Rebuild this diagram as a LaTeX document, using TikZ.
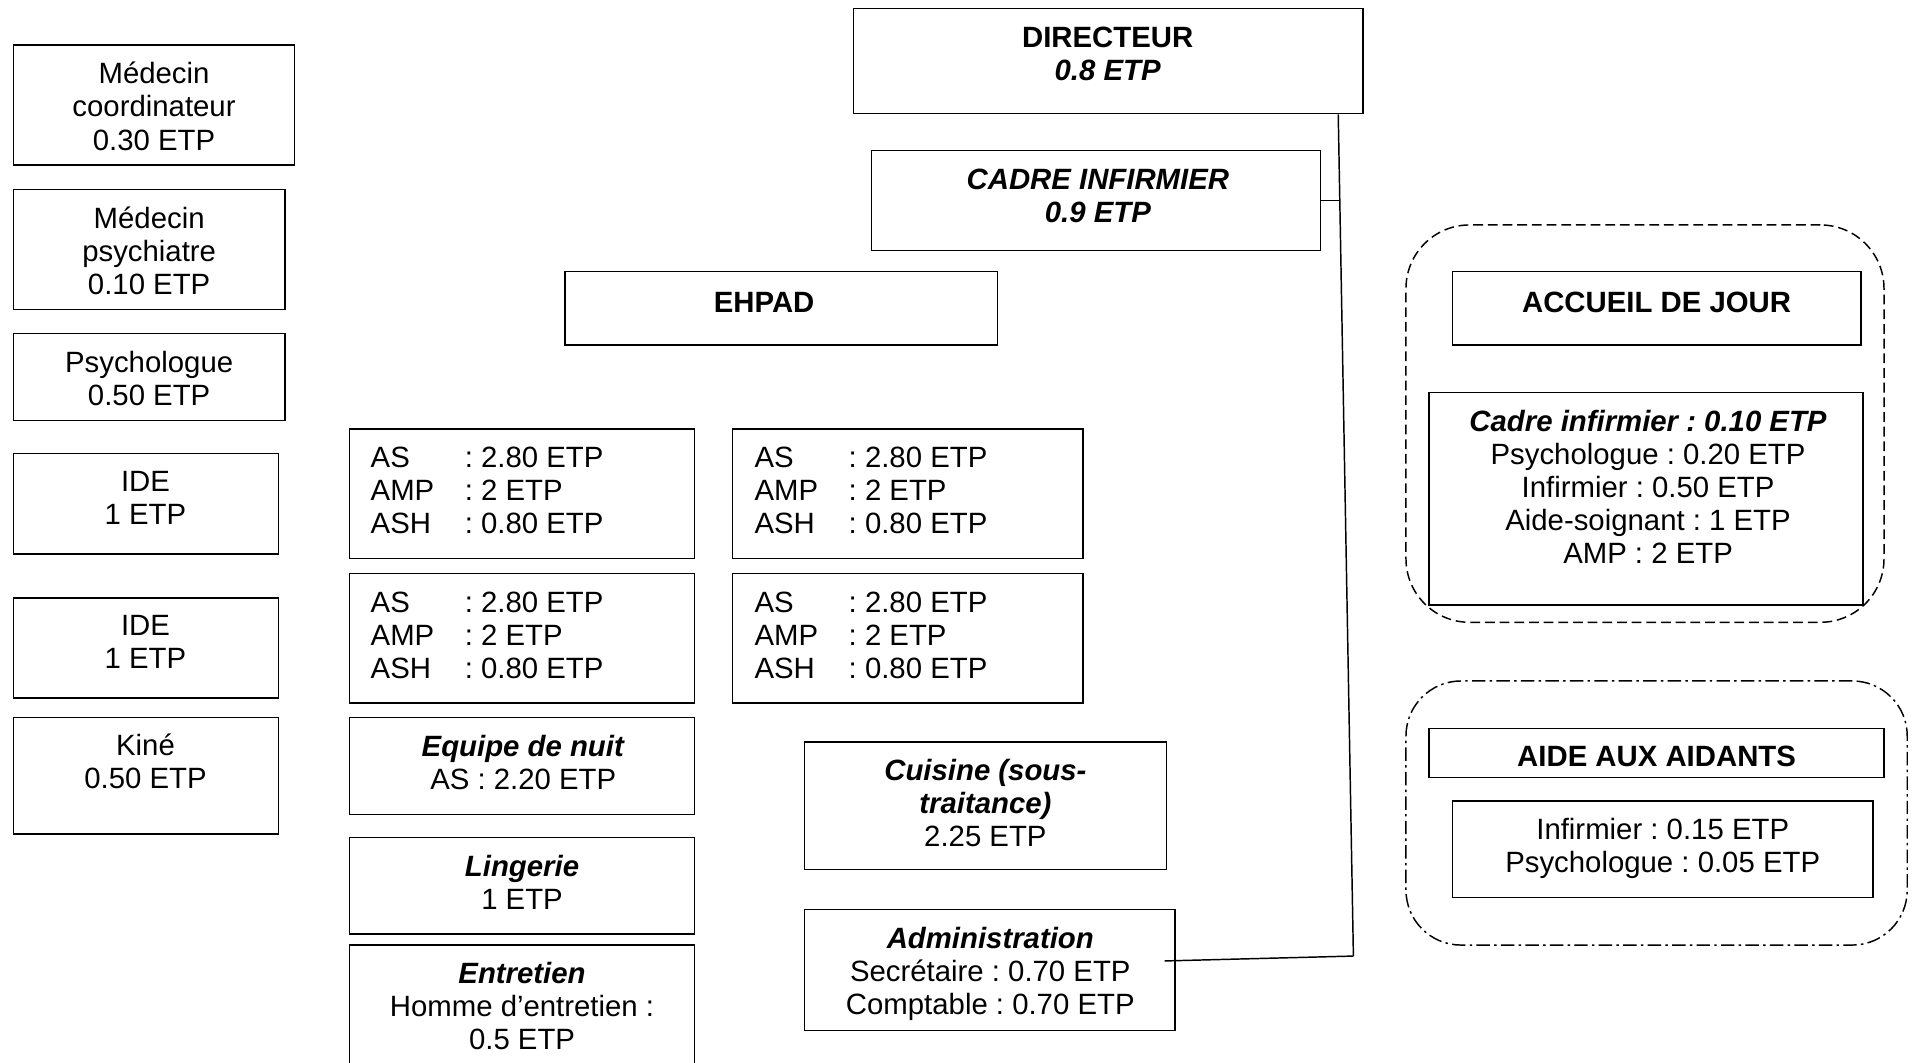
\documentclass[tikz,border=0pt]{standalone}
\usepackage{fontspec}
\setmainfont{Liberation Sans}
\usetikzlibrary{fit,calc}
\frenchspacing
\newcommand\T{\rule{0pt}{23pt}}
\newcommand\rw[2]{\makebox[77pt][l]{#1}: #2}
\newcommand\bi[1]{\textbf{\textit{#1}}}
\tikzset{
  bx/.style={draw, line width=1.2pt, inner sep=0pt, fit={#1}},
  tx/.style={anchor=north, yshift=14.5pt, inner sep=0pt, align=center, font=\fontsize{24}{27}\selectfont},
  tl/.style={anchor=north west, yshift=14.5pt, inner sep=0pt, align=left, font=\fontsize{24}{27}\selectfont},
  grpdash/.style={draw, line width=1.2pt, inner sep=0pt, rounded corners=52pt, dash pattern=on 8pt off 4pt, fit={#1}},
  grpdot/.style={draw, line width=1.2pt, inner sep=0pt, rounded corners=45pt, dash pattern=on 11pt off 3.5pt on 2pt off 3.5pt, fit={#1}},
  conn/.style={draw, line width=1.2pt}
}
\begin{document}
\begin{tikzpicture}[x=1pt,y=-1pt]
\useasboundingbox (0,0) rectangle (1568,869);

% left column
\node[bx={(11,37) (241,135)}] (mc) {};
\node[tx] (mct) at (126,60) {\T Médecin\\coordinateur\\0.30 ETP};
\node[bx={(11,155) (233,253)}] (mp) {};
\node[tx] (mpt) at (122,178) {\T Médecin\\psychiatre\\0.10 ETP};
\node[bx={(11,273) (233,344)}] (psy) {};
\node[tx] (psyt) at (122,296) {\T Psychologue\\0.50 ETP};
\node[bx={(11,371) (228,453)}] (ide1) {};
\node[tx] (ide1t) at (119,393) {\T IDE\\1 ETP};
\node[bx={(11,489) (228,571)}] (ide2) {};
\node[tx] (ide2t) at (119,511) {\T IDE\\1 ETP};
\node[bx={(11,587) (228,682)}] (kine) {};
\node[tx] (kinet) at (119,609) {\T Kiné\\0.50 ETP};

% top hierarchy
\node[bx={(698,7) (1115,93)}] (dir) {};
\node[tx] (dirt) at (906,30) {\T\textbf{DIRECTEUR}\\\bi{0.8 ETP}};
\node[bx={(713,123) (1080,205)}] (cadre) {};
\node[tx] (cadret) at (898,146) {\T\bi{CADRE INFIRMIER}\\\bi{0.9 ETP}};
\node[bx={(462,222) (816,282)}] (ehpad) {};
\node[tx] (ehpadt) at (625,247) {\T\textbf{EHPAD}};

% EHPAD teams
\node[bx={(286,351) (568,457)}] (a1) {};
\node[tl] (a1t) at (303,374) {\T\rw{AS}{2.80 ETP}\\\rw{AMP}{2 ETP}\\\rw{ASH}{0.80 ETP}};
\node[bx={(599,351) (886,457)}] (a2) {};
\node[tl] (a2t) at (617,374) {\T\rw{AS}{2.80 ETP}\\\rw{AMP}{2 ETP}\\\rw{ASH}{0.80 ETP}};
\node[bx={(286,469) (568,575)}] (b1) {};
\node[tl] (b1t) at (303,492) {\T\rw{AS}{2.80 ETP}\\\rw{AMP}{2 ETP}\\\rw{ASH}{0.80 ETP}};
\node[bx={(599,469) (886,575)}] (b2) {};
\node[tl] (b2t) at (617,492) {\T\rw{AS}{2.80 ETP}\\\rw{AMP}{2 ETP}\\\rw{ASH}{0.80 ETP}};

\node[bx={(286,587) (568,666)}] (nuit) {};
\node[tx] (nuitt) at (428,610) {\T\bi{Equipe de nuit}\\AS : 2.20 ETP};
\node[bx={(286,685) (568,764)}] (linge) {};
\node[tx] (linget) at (427,708) {\T\bi{Lingerie}\\1 ETP};
\node[bx={(286,773) (568,885)}] (entr) {};
\node[tx] (entrt) at (427,796) {\T\bi{Entretien}\\Homme d’entretien :\\0.5 ETP};

\node[bx={(658,607) (954,711)}] (cuis) {};
\node[tx] (cuist) at (806,630) {\T\bi{Cuisine (sous-}\\\bi{traitance)}\\2.25 ETP};
\node[bx={(658,744) (961,843)}] (adm) {};
\node[tx] (admt) at (810,767) {\T\bi{Administration}\\Secrétaire : 0.70 ETP\\Comptable : 0.70 ETP};

% connectors
\coordinate (vtop) at ($(dir.south east)+(-21,0)$);
\coordinate (vbot) at (1107,782);
\coordinate (vmid) at (1095.3,164);
\coordinate (admr) at ($(adm.east)+(-9,-7.5)$);
\draw[conn] (vtop) -- (vbot);
\draw[conn] (cadre.east) -- (vmid);
\draw[conn] (admr) -- (vbot);

% accueil de jour
\node[grpdash={(1150,184) (1541,509)}] (ajo) {};
\node[bx={(1188,222) (1522,282)}] (ajh) {};
\node[tx] (ajht) at (1355,247) {\T\textbf{ACCUEIL DE JOUR}};
\node[bx={(1169,321) (1524,495)}] (aji) {};
\node[tx] (ajit) at (1348,344) {\T\bi{Cadre infirmier : 0.10 ETP}\\Psychologue : 0.20 ETP\\Infirmier : 0.50 ETP\\Aide-soignant : 1 ETP\\AMP : 2 ETP};

% aide aux aidants
\node[grpdot={(1150,557) (1560,773)}] (aao) {};
\node[bx={(1169,596) (1541,636)}] (aah) {};
\node[tx] (aaht) at (1355,618) {\T\textbf{AIDE AUX AIDANTS}};
\node[bx={(1188,655) (1532,734)}] (aai) {};
\node[tx] (aait) at (1360,678) {\T Infirmier : 0.15 ETP\\Psychologue : 0.05 ETP};
\end{tikzpicture}
\end{document}
